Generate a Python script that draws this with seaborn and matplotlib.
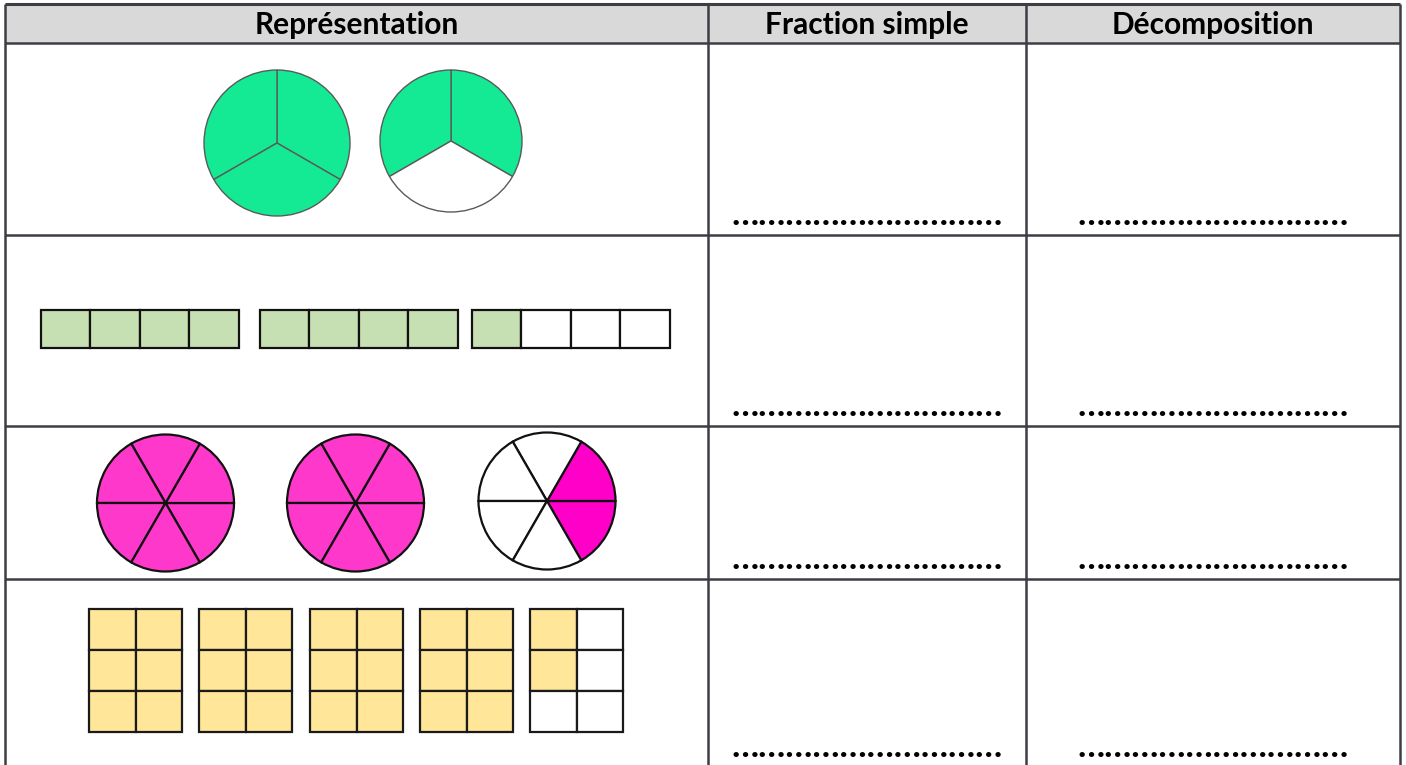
import numpy as np
import matplotlib
matplotlib.use("Agg")
import matplotlib.pyplot as plt
import seaborn as sns

# --- contenu du tableau ---
headers = ["Représentation", "Fraction simple", "Décomposition"]
answer_line = "\u2026" * 10

# ligne 1 : disques coupés en tiers
thirds_parts = 3
thirds_shaded = [3, 2]
# ligne 2 : bandes de quatre quarts
quarters_parts = 4
quarters_shaded = [4, 4, 1]
# ligne 3 : disques coupés en sixièmes
sixths_parts = 6
sixths_shaded = [6, 6, 2]
# ligne 4 : rectangles 2 x 3
grid_cols, grid_rows = 2, 3
grid_shaded = [6, 6, 6, 6, 2]

sns.set_style("white")
plt.rcParams["font.family"] = ["Lato", "DejaVu Sans"]

W, H = 1406, 765
fig = plt.figure(figsize=(W / 100, H / 100), dpi=100)
ax = fig.add_axes([0, 0, 1, 1])


def Y(y):
    # coordonnées "pixel" depuis le haut
    return H - y


col_x = [5, 708, 1026, 1400]
row_y = [4, 43, 235, 426, 579, 767]
line_col = "#3d3d45"

# -------------------------------
# En-tête
# -------------------------------
ax.fill_between([col_x[0], col_x[-1]], Y(row_y[1]), Y(row_y[0]), color="#d9d9d9", lw=0)
for i, h in enumerate(headers):
    ax.text((col_x[i] + col_x[i + 1]) / 2, Y(25), h, ha="center", va="center",
            fontsize=21.5, fontweight="bold", color="black")

# lignes pointillées à compléter
for yb in row_y[2:]:
    for i in (1, 2):
        ax.text((col_x[i] + col_x[i + 1]) / 2, Y(yb - 10), answer_line, ha="center",
                va="baseline", fontsize=25.4, fontweight="bold", color="black")

# -------------------------------
# Ligne 1 : tiers
# -------------------------------
thirds_pos = [(277, 143, 73), (451, 141, 71)]
for (cx, cy, r), k in zip(thirds_pos, thirds_shaded):
    cols = ["#14ea93"] * k + ["white"] * (thirds_parts - k)
    ax.pie([1] * thirds_parts, colors=cols, startangle=330, counterclock=True,
           center=(cx, Y(cy)), radius=r, frame=True,
           wedgeprops=dict(edgecolor="#5a5a5a", linewidth=1.0))

# -------------------------------
# Ligne 2 : quarts
# -------------------------------
bar_left = [41, 260, 472]
cell_w = 49.4
for x0, k in zip(bar_left, quarters_shaded):
    idx = np.arange(quarters_parts)
    cols = ["#c6e0b4" if j < k else "white" for j in idx]
    ax.bar(x0 + idx * cell_w, 38, width=cell_w, bottom=Y(348), align="edge",
           color=cols, edgecolor="#111111", linewidth=1.6)

# -------------------------------
# Ligne 3 : sixièmes
# -------------------------------
sixths_pos = [(165.5, 503, 68.5), (355.5, 503, 68.5), (547, 501, 68.5)]
for (cx, cy, r), k in zip(sixths_pos, sixths_shaded):
    fill = "#ff38cc" if k == sixths_parts else "#ff00c8"
    cols = [fill] * k + ["white"] * (sixths_parts - k)
    ax.pie([1] * sixths_parts, colors=cols, startangle=-60, counterclock=True,
           center=(cx, Y(cy)), radius=r, frame=True,
           wedgeprops=dict(edgecolor="#111111", linewidth=1.6))

# -------------------------------
# Ligne 4 : grilles 2 x 3
# -------------------------------
grid_left = [89, 199, 310, 420, 530]
gw, gh = 46.5, 41
for x0, k in zip(grid_left, grid_shaded):
    for c in range(grid_cols):
        rows = np.arange(grid_rows)
        cols = ["#ffe699" if c * grid_rows + r < k else "white" for r in rows]
        ax.bar(np.full(grid_rows, x0 + c * gw), gh, width=gw,
               bottom=Y(609 + (rows + 1) * gh), align="edge",
               color=cols, edgecolor="#1a1a1a", linewidth=1.6)

# -------------------------------
# Traits du tableau
# -------------------------------
ax.hlines([Y(y) for y in row_y[1:]], col_x[0], col_x[-1], color=line_col, lw=1.8)
ax.hlines(Y(row_y[0]), col_x[0], col_x[-1], color=line_col, lw=2.2)
ax.vlines(col_x, Y(row_y[-1]), Y(row_y[0]), color=line_col, lw=1.8)

ax.set_xlim(0, W)
ax.set_ylim(0, H)
ax.set_aspect("equal")
ax.axis("off")

fig.savefig("out.png", dpi=100)
